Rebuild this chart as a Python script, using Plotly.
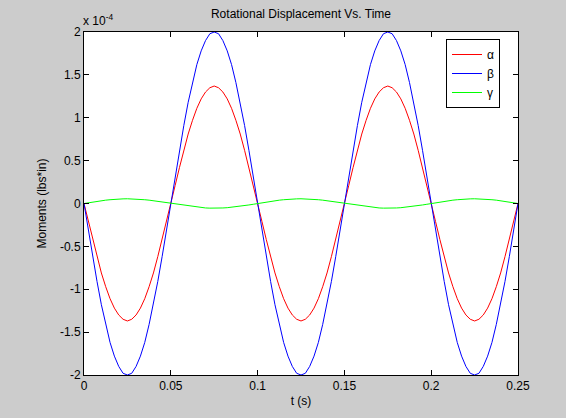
import numpy as np
import plotly.graph_objects as go

# time samples (s)
t = np.linspace(0, 0.25, 101)

# values in units of 1e-4 (lbs*in)
beta = [0, -0.31, -0.62, -0.91, -1.18, -1.41, -1.62, -1.78, -1.90, -1.98, -2.00,
        -1.98, -1.90, -1.78, -1.62, -1.41, -1.18, -0.91, -0.62, -0.31, 0,
        0.31, 0.62, 0.91, 1.18, 1.41, 1.62, 1.78, 1.90, 1.98, 2.00,
        1.98, 1.90, 1.78, 1.62, 1.41, 1.18, 0.91, 0.62, 0.31, 0,
        -0.31, -0.62, -0.91, -1.18, -1.41, -1.62, -1.78, -1.90, -1.98, -2.00,
        -1.98, -1.90, -1.78, -1.62, -1.41, -1.18, -0.91, -0.62, -0.31, 0,
        0.31, 0.62, 0.91, 1.18, 1.41, 1.62, 1.78, 1.90, 1.98, 2.00,
        1.98, 1.90, 1.78, 1.62, 1.41, 1.18, 0.91, 0.62, 0.31, 0,
        -0.31, -0.62, -0.91, -1.18, -1.41, -1.62, -1.78, -1.90, -1.98, -2.00,
        -1.98, -1.90, -1.78, -1.62, -1.41, -1.18, -0.91, -0.62, -0.31, 0]

alpha = [0, -0.21, -0.42, -0.62, -0.81, -0.97, -1.11, -1.22, -1.30, -1.35, -1.37,
         -1.35, -1.30, -1.22, -1.11, -0.97, -0.81, -0.62, -0.42, -0.21, 0,
         0.21, 0.42, 0.62, 0.81, 0.97, 1.11, 1.22, 1.30, 1.35, 1.37,
         1.35, 1.30, 1.22, 1.11, 0.97, 0.81, 0.62, 0.42, 0.21, 0,
         -0.21, -0.42, -0.62, -0.81, -0.97, -1.11, -1.22, -1.30, -1.35, -1.37,
         -1.35, -1.30, -1.22, -1.11, -0.97, -0.81, -0.62, -0.42, -0.21, 0,
         0.21, 0.42, 0.62, 0.81, 0.97, 1.11, 1.22, 1.30, 1.35, 1.37,
         1.35, 1.30, 1.22, 1.11, 0.97, 0.81, 0.62, 0.42, 0.21, 0,
         -0.21, -0.42, -0.62, -0.81, -0.97, -1.11, -1.22, -1.30, -1.35, -1.37,
         -1.35, -1.30, -1.22, -1.11, -0.97, -0.81, -0.62, -0.42, -0.21, 0]

gamma = [0, 0.009, 0.017, 0.025, 0.032, 0.039, 0.044, 0.049, 0.052, 0.054, 0.055,
         0.054, 0.052, 0.049, 0.044, 0.039, 0.032, 0.025, 0.017, 0.009, 0,
         -0.009, -0.017, -0.025, -0.032, -0.039, -0.044, -0.049, -0.052, -0.054, -0.055,
         -0.054, -0.052, -0.049, -0.044, -0.039, -0.032, -0.025, -0.017, -0.009, 0,
         0.009, 0.017, 0.025, 0.032, 0.039, 0.044, 0.049, 0.052, 0.054, 0.055,
         0.054, 0.052, 0.049, 0.044, 0.039, 0.032, 0.025, 0.017, 0.009, 0,
         -0.009, -0.017, -0.025, -0.032, -0.039, -0.044, -0.049, -0.052, -0.054, -0.055,
         -0.054, -0.052, -0.049, -0.044, -0.039, -0.032, -0.025, -0.017, -0.009, 0,
         0.009, 0.017, 0.025, 0.032, 0.039, 0.044, 0.049, 0.052, 0.054, 0.055,
         0.054, 0.052, 0.049, 0.044, 0.039, 0.032, 0.025, 0.017, 0.009, 0]

x_ticks = [0, 0.05, 0.1, 0.15, 0.2, 0.25]
x_tick_labels = ["0", "0.05", "0.1", "0.15", "0.2", "0.25"]
y_ticks = [-2, -1.5, -1, -0.5, 0, 0.5, 1, 1.5, 2]
y_tick_labels = ["-2", "-1.5", "-1", "-0.5", "0", "0.5", "1", "1.5", "2"]

FONT = "Liberation Sans, Arial, sans-serif"

fig = go.Figure()
fig.add_trace(go.Scatter(x=t, y=alpha, mode="lines", name="α",
                         line=dict(color="#ff0000", width=1)))
fig.add_trace(go.Scatter(x=t, y=beta, mode="lines", name="β",
                         line=dict(color="#0000ff", width=1)))
fig.add_trace(go.Scatter(x=t, y=gamma, mode="lines", name="γ",
                         line=dict(color="#00ff00", width=1)))

axis_common = dict(showgrid=False, zeroline=False, showline=True, linecolor="black",
                   linewidth=1, mirror="ticks", ticks="inside", ticklen=5,
                   tickcolor="black", automargin=False,
                   tickfont=dict(family=FONT, size=12, color="black"))

fig.update_xaxes(range=[0, 0.25], tickvals=x_ticks, ticktext=x_tick_labels,
                 title=dict(text="t (s)", font=dict(family=FONT, size=12, color="black"),
                            standoff=4),
                 **axis_common)
fig.update_yaxes(range=[-2, 2], tickvals=y_ticks, ticktext=y_tick_labels,
                 title=dict(text="Moments (lbs*in)", font=dict(family=FONT, size=12, color="black"),
                            standoff=10),
                 **axis_common)

fig.update_layout(
    width=566, height=418,
    margin=dict(l=84, r=48, t=32, b=43, autoexpand=False),
    paper_bgcolor="#cccccc", plot_bgcolor="white",
    title=dict(text="Rotational Displacement Vs. Time", x=(84 + 518) / 2 / 566,
               xanchor="center", y=1 - 14 / 418, yanchor="middle",
               font=dict(family=FONT, size=12, color="black")),
    legend=dict(x=(446 - 84) / 434, y=(375 - 39) / 343, xanchor="left", yanchor="top",
                bgcolor="white", bordercolor="black", borderwidth=1,
                font=dict(family=FONT, size=12, color="black"),
                tracegroupgap=0, entrywidth=56, entrywidthmode="pixels"),
    showlegend=True,
    annotations=[dict(text="x 10<sup>-4</sup>", xref="paper", yref="paper",
                      x=0, y=1, xanchor="left", yanchor="bottom", xshift=-3, yshift=2,
                      showarrow=False, font=dict(family=FONT, size=12, color="black"))],
)

fig.write_html("out.html", config={"displayModeBar": False},
               post_script="document.body.style.margin='0';document.body.style.padding='0';"
                           "document.body.style.overflow='hidden';")
